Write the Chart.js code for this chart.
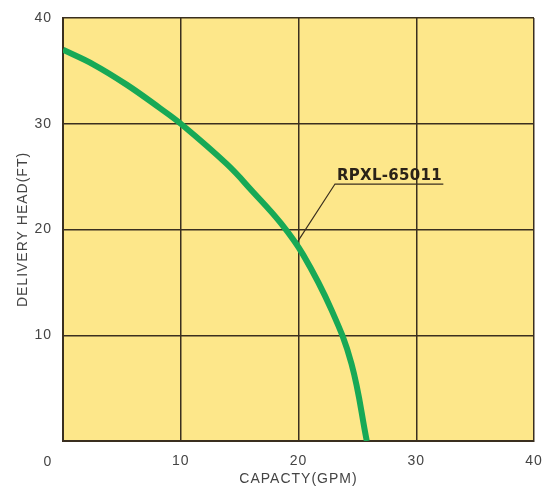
<!DOCTYPE html>
<html>
<head>
<meta charset="utf-8">
<script src="https://cdn.jsdelivr.net/npm/chart.js@4"></script>
<style>
  html, body { margin: 0; padding: 0; background: #fff; }
  #wrap { width: 550px; height: 490px; }
</style>
</head>
<body>
<div id="wrap"><canvas id="pumpChart" width="550" height="490"></canvas></div>
<script>
// 펌프 성능 곡선 데이터
const capacity = [0, 2.6, 5.4, 8.2, 10, 13.9, 16.1, 18.5, 20.4, 22.8, 24.5, 25.8]; // GPM
const head     = [37.0, 35.6, 33.7, 31.5, 30.0, 26.2, 23.6, 20.6, 17.6, 12.4, 7.3, 0]; // FT
const leaderX  = [19.9, 23.1, 32.3];
const leaderY  = [18.8, 24.3, 24.3];
const modelName = "RPXL-65011";
const xTicks = [0, 10, 20, 30, 40];
const yTicks = [0, 10, 20, 30, 40];

const gridColor = '#3a2f1f';
const textColor = '#444';

// 플롯 영역 배경 + 라벨
const paperPlugin = {
  id: 'paper',
  beforeLayout(chart) {
    chart.ctx.letterSpacing = '1px';
  },
  beforeDraw(chart) {
    const { ctx, chartArea: a } = chart;
    ctx.letterSpacing = '1px';
    ctx.save();
    ctx.fillStyle = '#fde78a';
    ctx.fillRect(a.left, a.top, a.right - a.left, a.bottom - a.top);
    ctx.restore();
  },
  afterDraw(chart) {
    const { ctx, scales } = chart;
    ctx.save();
    // 원점 "0" 라벨
    ctx.font = '14px "Liberation Sans", Arial, sans-serif';
    ctx.fillStyle = textColor;
    ctx.textAlign = 'center';
    ctx.textBaseline = 'middle';
    ctx.fillText('0', scales.x.getPixelForValue(0) - 15, scales.y.getPixelForValue(0) + 21);
    // 모델명
    ctx.letterSpacing = '0.3px';
    ctx.font = 'bold 15px "DejaVu Sans", sans-serif';
    ctx.fillStyle = '#2a2218';
    ctx.textAlign = 'left';
    ctx.textBaseline = 'alphabetic';
    ctx.fillText(modelName, scales.x.getPixelForValue(23.26), scales.y.getPixelForValue(24.7));
    ctx.restore();
  }
};

const canvas = document.getElementById('pumpChart');

new Chart(canvas, {
  type: 'line',
  data: {
    datasets: [
      {
        label: modelName,
        data: capacity.map((c, i) => ({ x: c, y: head[i] })),
        borderColor: '#17a956',
        borderWidth: 6,
        pointRadius: 0,
        tension: 0.4,
        fill: false
      },
      {
        label: 'leader',
        data: leaderX.map((c, i) => ({ x: c, y: leaderY[i] })),
        borderColor: gridColor,
        borderWidth: 1.2,
        pointRadius: 0,
        tension: 0,
        fill: false
      }
    ]
  },
  options: {
    responsive: false,
    animation: false,
    layout: { padding: { left: 0, right: 16, top: 18, bottom: 0 } },
    plugins: {
      legend: { display: false },
      tooltip: { enabled: false }
    },
    scales: {
      x: {
        type: 'linear',
        min: 0, max: 40,
        afterBuildTicks: s => { s.ticks = xTicks.map(v => ({ value: v })); },
        afterFit: s => { s.height = 49; s.paddingLeft = 0; s.paddingRight = 0; },
        grid: { color: gridColor, lineWidth: 1.5, drawTicks: false },
        border: { color: gridColor, width: 2 },
        ticks: {
          padding: 12,
          color: textColor,
          font: { family: '"Liberation Sans", Arial, sans-serif', size: 14 },
          callback: v => v === 0 ? '' : v
        },
        title: {
          display: true,
          text: 'CAPACTY(GPM)',
          color: textColor,
          padding: { top: 0, bottom: 2 },
          font: { family: '"Liberation Sans", Arial, sans-serif', size: 14 }
        }
      },
      y: {
        type: 'linear',
        min: 0, max: 40,
        afterBuildTicks: s => { s.ticks = yTicks.map(v => ({ value: v })); },
        afterFit: s => { s.width = 63; s.paddingTop = 0; s.paddingBottom = 0; },
        grid: { color: gridColor, lineWidth: 1.5, drawTicks: false },
        border: { color: gridColor, width: 2 },
        ticks: {
          padding: 11,
          color: textColor,
          font: { family: '"Liberation Sans", Arial, sans-serif', size: 14 },
          callback: v => v === 0 ? '' : v
        },
        title: {
          display: true,
          text: 'DELIVERY HEAD(FT)',
          color: textColor,
          padding: { top: 15, bottom: 0 },
          font: { family: '"Liberation Sans", Arial, sans-serif', size: 14 }
        }
      }
    }
  },
  plugins: [paperPlugin]
});
</script>
</body>
</html>
